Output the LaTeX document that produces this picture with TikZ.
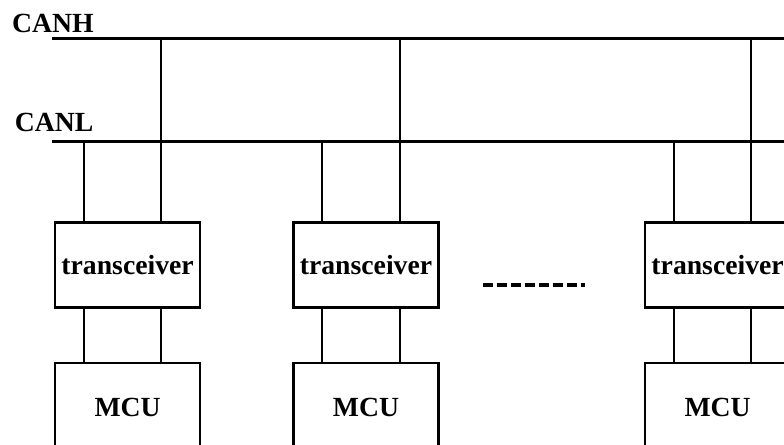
\documentclass[tikz,border=0pt]{standalone}
\usepackage{fontspec}
\setmainfont{Liberation Serif}
\usetikzlibrary{positioning}

\begin{document}
\begin{tikzpicture}[font=\fontsize{19.7}{22}\selectfont\bfseries,
    box/.style={draw,line width=1.6pt,minimum width=3.625cm,inner sep=0pt},
    bus/.style={line width=2.4pt},
    wire/.style={line width=1.3pt}]
            \useasboundingbox (0,0) rectangle (19.6,11.125);
            % the two bus lines
            \coordinate (hl) at (1.3,10.16);
            \coordinate (hr) at (19.8,10.16);
            \coordinate (ll) at (1.3,7.59);
            \coordinate (lr) at (19.8,7.59);
            \draw [bus] (hl) -- (hr);
            \draw [bus] (ll) -- (lr);
            \node (canh) at (1.325,10.55) {CANH};
            \node (canl) at (1.35,8.06) {CANL};
            % first station
            \node [box,minimum height=2.125cm] (trans1) at (3.19,4.5) {transceiver};
            \node [box,minimum height=2.25cm,below=1.33cm of trans1] (mcu1) {MCU};
            \coordinate (a1) at ([xshift=-1.09cm]trans1.north);
            \coordinate (b1) at ([xshift=0.84cm]trans1.north);
            \draw [wire] (a1) -- (a1 |- ll);
            \draw [wire] (b1) -- (b1 |- hl);
            \draw [wire] (a1 |- trans1.south) -- (a1 |- mcu1.north);
            \draw [wire] (b1 |- trans1.south) -- (b1 |- mcu1.north);
            % second station
            \node [box,minimum height=2.125cm] (trans2) at (9.15,4.5) {transceiver};
            \node [box,minimum height=2.25cm,below=1.33cm of trans2] (mcu2) {MCU};
            \coordinate (a2) at ([xshift=-1.09cm]trans2.north);
            \coordinate (b2) at ([xshift=0.84cm]trans2.north);
            \draw [wire] (a2) -- (a2 |- ll);
            \draw [wire] (b2) -- (b2 |- hl);
            \draw [wire] (a2 |- trans2.south) -- (a2 |- mcu2.north);
            \draw [wire] (b2 |- trans2.south) -- (b2 |- mcu2.north);
            % last station
            \node [box,minimum height=2.125cm] (trans3) at (17.94,4.5) {transceiver};
            \node [box,minimum height=2.25cm,below=1.33cm of trans3] (mcu3) {MCU};
            \coordinate (a3) at ([xshift=-1.09cm]trans3.north);
            \coordinate (b3) at ([xshift=0.84cm]trans3.north);
            \draw [wire] (a3) -- (a3 |- ll);
            \draw [wire] (b3) -- (b3 |- hl);
            \draw [wire] (a3 |- trans3.south) -- (a3 |- mcu3.north);
            \draw [wire] (b3 |- trans3.south) -- (b3 |- mcu3.north);
            % more stations in between
            \draw [line width=2.5pt,dash pattern=on 7.1pt off 2.85pt] (12.075,4.0) -- (14.625,4.0);
        \end{tikzpicture}
\end{document}
